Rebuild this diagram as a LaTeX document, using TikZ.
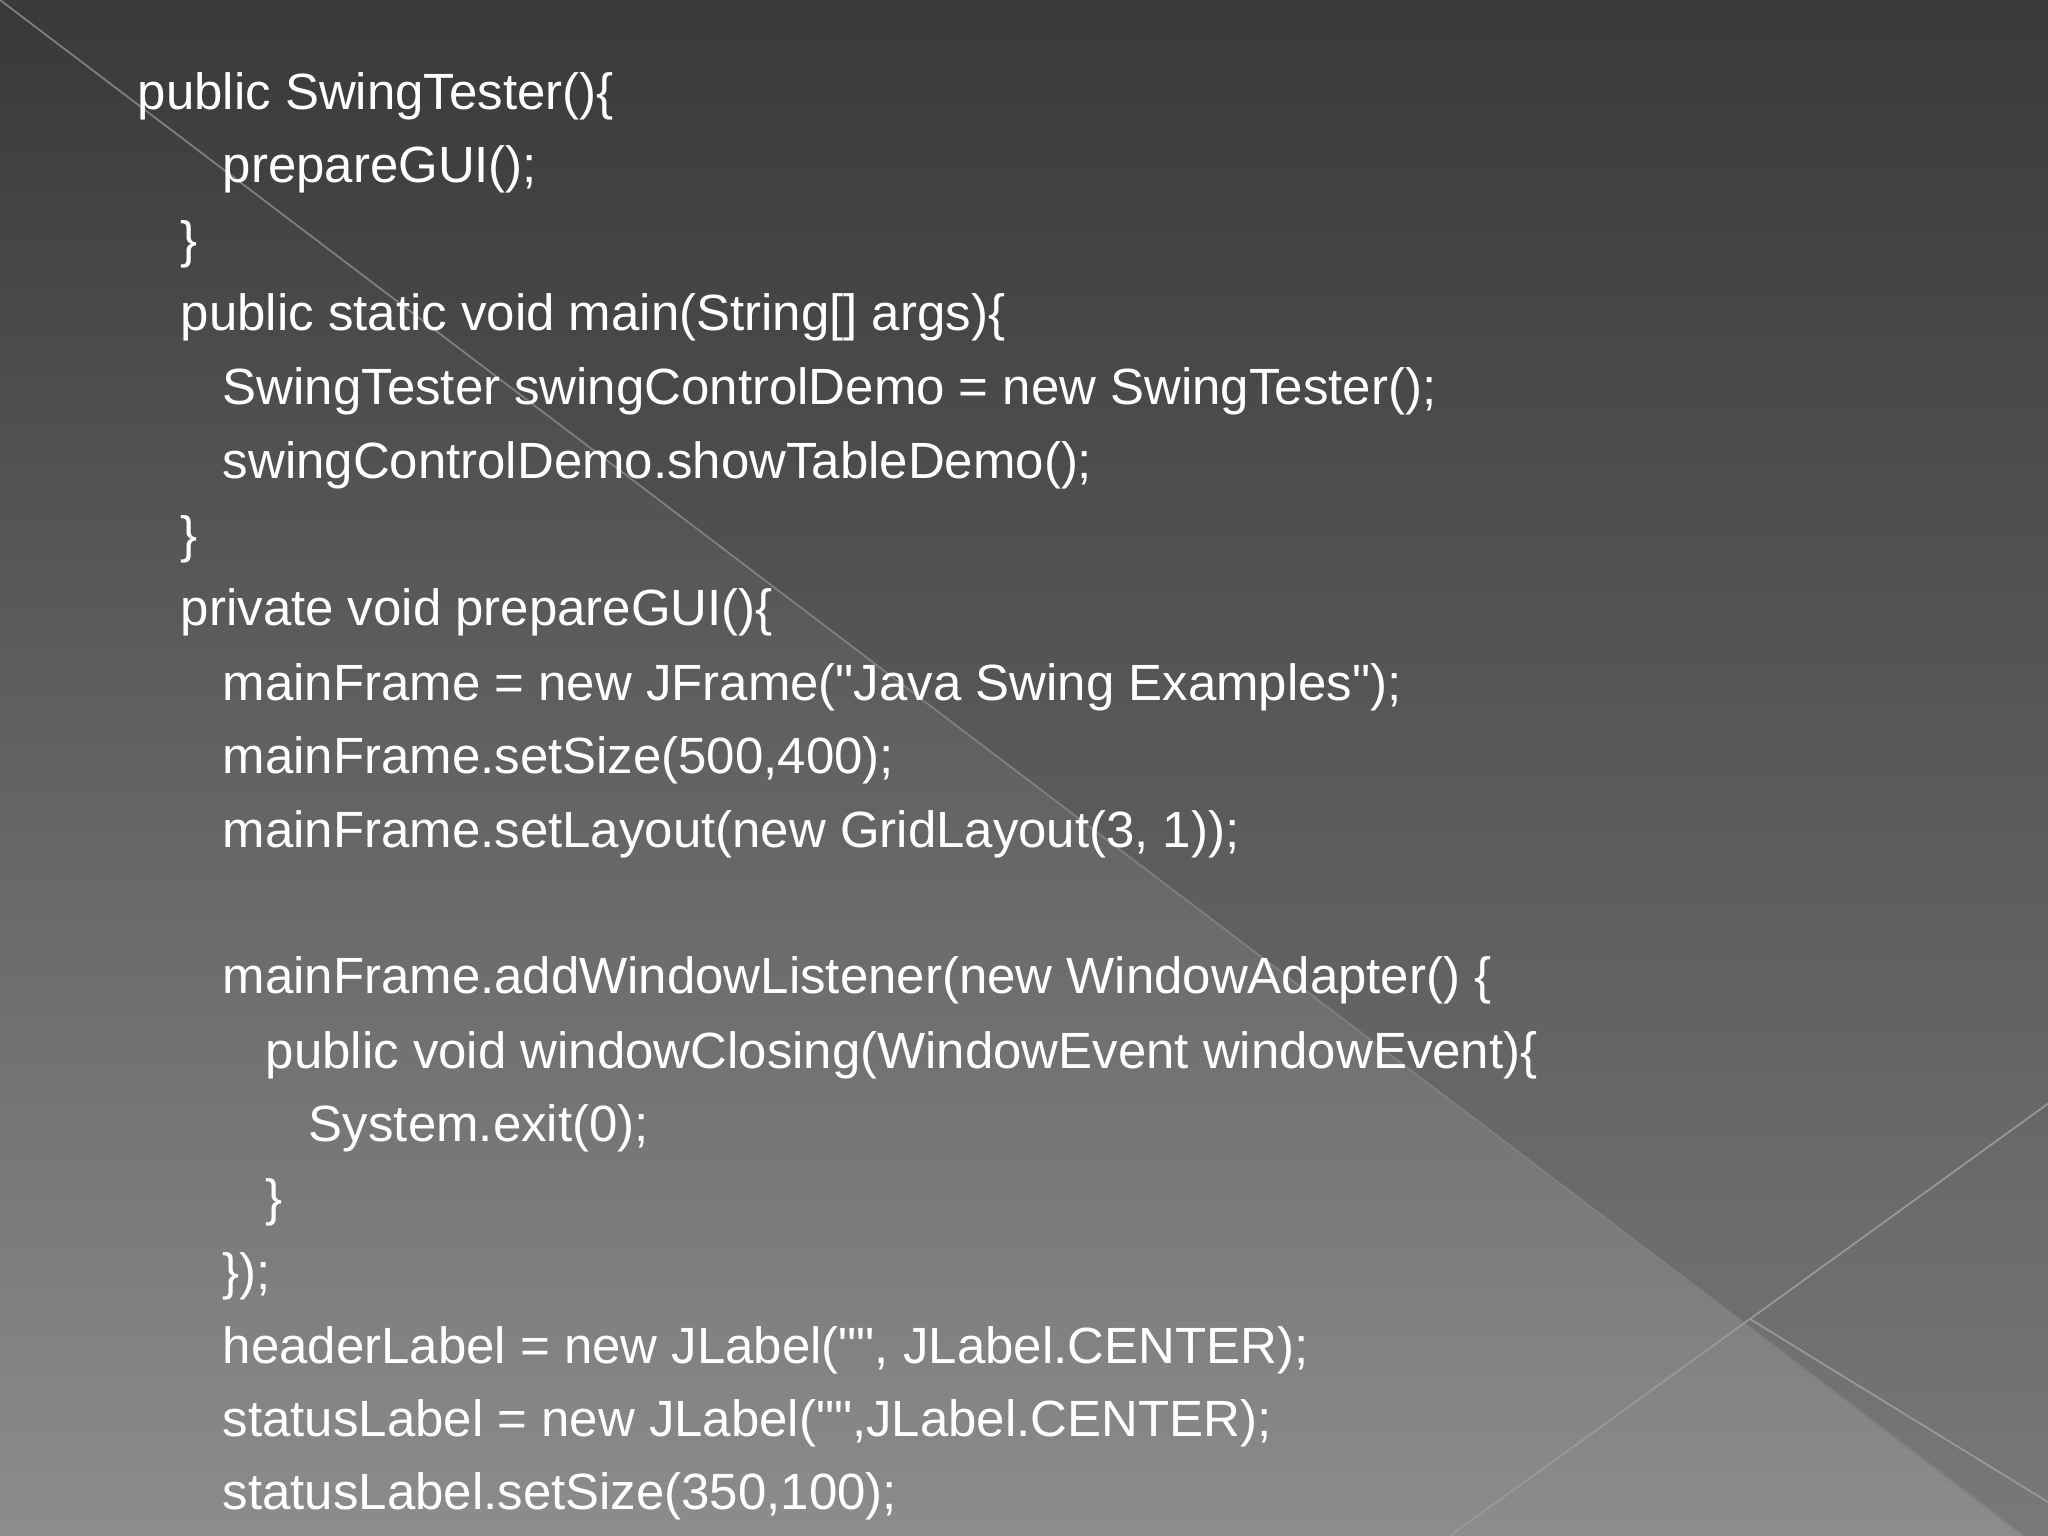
\documentclass[tikz,border=0pt]{standalone}
\usepackage{fontspec}
\setmainfont{Liberation Sans}
\newcommand{\dq}{\textquotedbl}
\begin{document}
\begin{tikzpicture}[x=0.013061cm,y=-0.013061cm,
  code/.style={anchor=base west,inner sep=0pt,text=white,font=\fontsize{14.5}{16}\selectfont}]
\useasboundingbox (0,0) rectangle (1568,1176);
\shade[top color=black!78,bottom color=black!45] (0,0) rectangle (1568,1176);
\fill[black!75,opacity=0.25] (0,0) -- (1568,0) -- (1568,1176) -- (1550,1176) -- cycle;
\draw[black!50,line width=0.5pt] (0,0) -- (1550,1176);
\draw[black!40,line width=0.5pt] (1110,1176) -- (1568,845);
\draw[black!40,line width=0.5pt] (1340,1010) -- (1568,1150);
\foreach \t/\x/\y [count=\i] in {
 {public SwingTester()\{}/105/72,
 {prepareGUI();}/170/128,
 {\}}/138/185,
 {public static void main(String[] args)\{}/138/241,
 {SwingTester swingControlDemo = new SwingTester();}/170/298,
 {swingControlDemo.showTableDemo();}/170/354,
 {\}}/138/411,
 {private void prepareGUI()\{}/138/467,
 {mainFrame = new JFrame(\dq Java Swing Examples\dq);}/170/524,
 {mainFrame.setSize(500,400);}/170/580,
 {mainFrame.setLayout(new GridLayout(3, 1));}/170/637,
 {mainFrame.addWindowListener(new WindowAdapter() \{}/170/749,
 {public void windowClosing(WindowEvent windowEvent)\{}/203/806,
 {System.exit(0);}/236/862,
 {\}}/203/919,
 {\});}/170/975,
 {headerLabel = new JLabel(\dq\dq, JLabel.CENTER);}/170/1032,
 {statusLabel = new JLabel(\dq\dq,JLabel.CENTER);}/170/1088,
 {statusLabel.setSize(350,100);}/170/1144}
 \node[code] (l\i) at (\x,\y+12) {\t};
\end{tikzpicture}
\end{document}
